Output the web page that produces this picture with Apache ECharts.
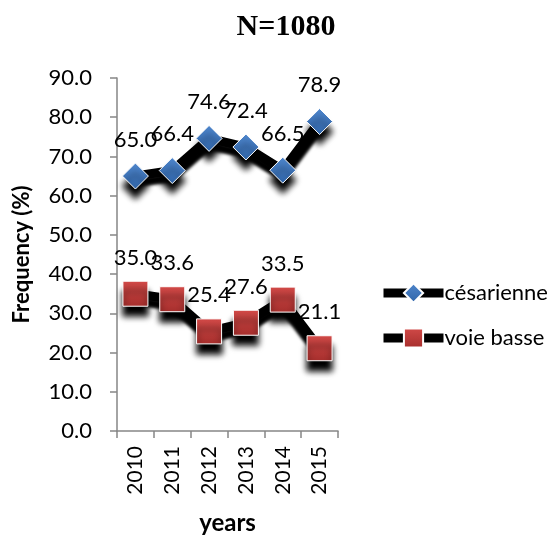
<!DOCTYPE html>
<html>
<head>
<meta charset="utf-8">
<script src="https://cdn.jsdelivr.net/npm/echarts@6/dist/echarts.min.js"></script>
<style>
  html, body { margin: 0; padding: 0; background: #fff; }
  #chart { width: 555px; height: 536px; }
</style>
</head>
<body>
<div id="chart"></div>
<script>
const years = ['2010', '2011', '2012', '2013', '2014', '2015']
const cesarienne = [65.0, 66.4, 74.6, 72.4, 66.5, 78.9]
const voieBasse = [35.0, 33.6, 25.4, 27.6, 33.5, 21.1]

const font = 'Lato, "Open Sans", sans-serif'

const chart = echarts.init(document.getElementById('chart'))

// thick black line + dark drop shadow, like the Excel original
const makeSeries = (name, data, symbol, size, colorTop, colorBottom) => ({
  name,
  type: 'line',
  data,
  symbol,
  symbolSize: size,
  z: 3,
  lineStyle: {
    color: '#000',
    width: 9,
    shadowColor: '#000',
    shadowBlur: 3,
    shadowOffsetY: 7
  },
  itemStyle: {
    color: new echarts.graphic.LinearGradient(0, 0, 0, 1, [
      { offset: 0, color: colorTop },
      { offset: 1, color: colorBottom }
    ]),
    borderColor: '#fff',
    borderWidth: 1,
    shadowColor: '#000',
    shadowBlur: 6,
    shadowOffsetY: 10
  },
  label: {
    show: true,
    position: 'top',
    distance: 12,
    color: '#000',
    fontFamily: font,
    fontSize: 22,
    formatter: (p) => p.value.toFixed(1)
  }
})

const option = {
  animation: false,
  title: {
    text: 'N=1080',
    left: 281,
    top: 7,
    textAlign: 'center',
    textStyle: {
      fontFamily: '"Liberation Serif", "Times New Roman", serif',
      fontWeight: 'bold',
      fontSize: 30,
      color: '#000'
    }
  },
  legend: {
    orient: 'vertical',
    left: 374,
    top: 276,
    itemWidth: 60,
    itemHeight: 24,
    itemGap: 21,
    lineStyle: { width: 9, color: '#000' },
    textStyle: {
      fontFamily: font,
      fontSize: 22,
      lineHeight: 24,
      color: '#000',
      padding: [0, 0, 0, -4]
    },
    data: ['césarienne', 'voie basse']
  },
  grid: {
    left: 117,
    right: 217,
    top: 78,
    bottom: 105,
    outerBoundsMode: 'none'
  },
  xAxis: {
    type: 'category',
    data: years,
    name: 'years',
    nameLocation: 'middle',
    nameGap: 80,
    nameTextStyle: { fontFamily: font, fontSize: 24, fontWeight: 'bold', color: '#000' },
    axisLine: { lineStyle: { color: '#868686', width: 1.5 } },
    axisTick: { show: true, length: 7, lineStyle: { color: '#868686', width: 1.5 } },
    axisLabel: {
      rotate: 90,
      margin: 15,
      color: '#000',
      fontFamily: font,
      fontSize: 21
    }
  },
  yAxis: {
    type: 'value',
    min: 0,
    max: 90,
    interval: 10,
    name: 'Frequency (%)',
    nameLocation: 'middle',
    nameGap: 84,
    nameTextStyle: { fontFamily: font, fontSize: 22, fontWeight: 'bold', color: '#000' },
    axisLine: { show: true, lineStyle: { color: '#868686', width: 1.5 } },
    axisTick: { show: true, length: 7, lineStyle: { color: '#868686', width: 1.5 } },
    splitLine: { show: false },
    axisLabel: {
      margin: 25,
      color: '#000',
      fontFamily: font,
      fontSize: 22,
      formatter: (v) => v.toFixed(1)
    }
  },
  series: [
    makeSeries('césarienne', cesarienne, 'diamond', 26, '#4f86cc', '#2f64a8'),
    makeSeries('voie basse', voieBasse, 'rect', 25, '#d24a48', '#a52e2c')
  ]
}

chart.setOption(option)
</script>
</body>
</html>
